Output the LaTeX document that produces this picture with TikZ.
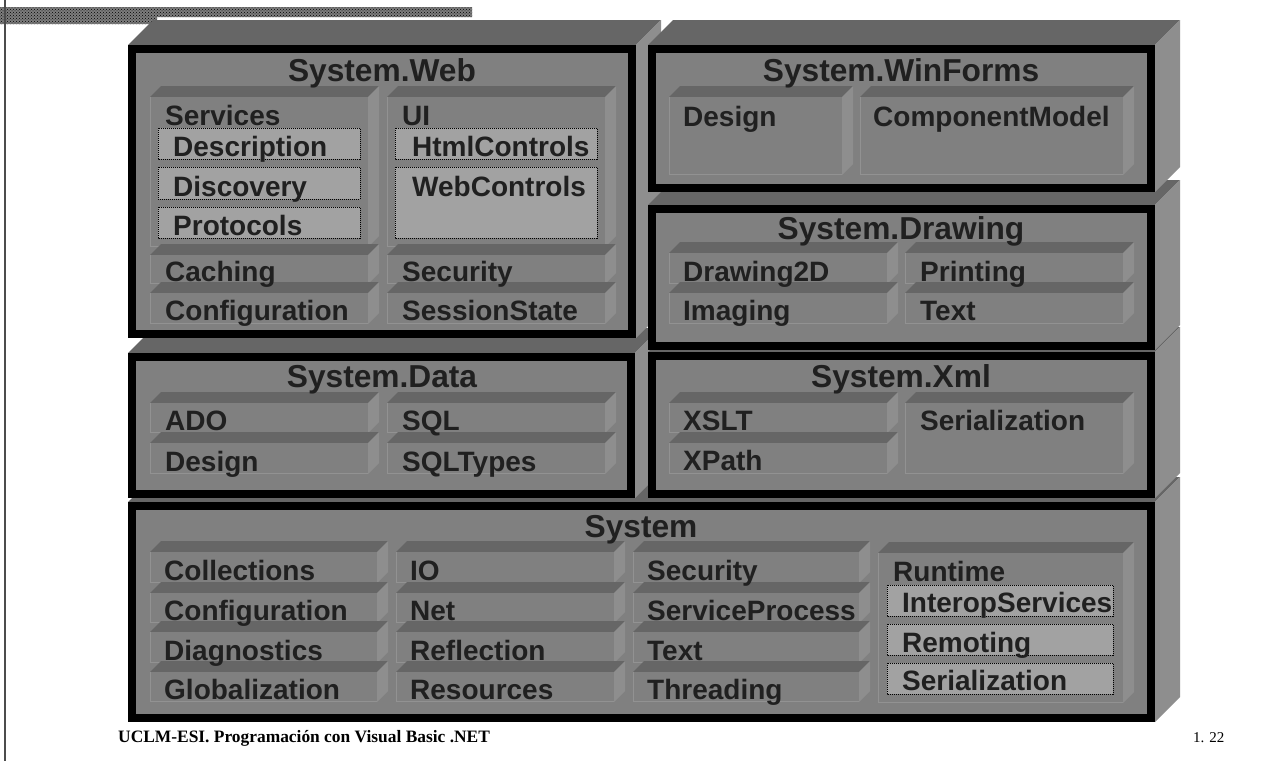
\documentclass[tikz,border=0pt]{standalone}
\usepackage{fontspec}
\newfontfamily\lbsans{Liberation Sans}
\newfontfamily\lbserif{Liberation Serif}
\usetikzlibrary{patterns}
\definecolor{frontc}{RGB}{128,128,128}
\definecolor{topc}{RGB}{102,102,102}
\definecolor{sidec}{RGB}{142,142,142}
\definecolor{edgec}{RGB}{146,146,146}
\definecolor{dotc}{RGB}{162,162,162}
\definecolor{txtc}{RGB}{32,32,32}
\definecolor{barc}{RGB}{125,125,125}
% outer 3D box: front x1 y1 x2 y2
\newcommand{\obox}[4]{%
  \fill[topc] (#1,#2) -- ({#1+25},{#2-25}) -- ({#3+25},{#2-25}) -- (#3,#2) -- cycle;
  \fill[sidec] (#3,#2) -- ({#3+25},{#2-25}) -- ({#3+25},{#4-25}) -- (#3,#4) -- cycle;
  \fill[frontc] (#1,#2) rectangle (#3,#4);
  \draw[frame] ({#1+4},{#2+4}) rectangle ({#3-4},{#4-4});
}
% inner 3D box
\newcommand{\subbx}[4]{%
  \fill[topc] (#1,#2) -- ({#1+11},{#2-11}) -- ({#3+11},{#2-11}) -- (#3,#2) -- cycle;
  \fill[sidec] (#3,#2) -- ({#3+11},{#2-11}) -- ({#3+11},{#4-11}) -- (#3,#4) -- cycle;
  \fill[frontc] (#1,#2) rectangle (#3,#4);
  \draw[edgec, line width=1pt] ({#1+0.5},{#2}) -- ({#1+0.5},{#4-0.5}) -- (#3,{#4-0.5});
}
\newcommand{\dotbx}[4]{\draw[dotbox] (#1,#2) rectangle (#3,#4);}
\begin{document}
\begin{tikzpicture}[x=1pt,y=-1pt,
  lbl/.style={font=\lbsans\bfseries\fontsize{28}{30}\selectfont, text=txtc, inner sep=0pt, anchor=base west},
  head/.style={font=\lbsans\bfseries\fontsize{31.7}{34}\selectfont, text=txtc, inner sep=0pt, anchor=base},
  dotbox/.style={fill=dotc, draw=black, line width=1pt, dash pattern=on 1pt off 1pt},
  frame/.style={draw=black, line width=8pt},
  foot/.style={font=\lbserif\bfseries\fontsize{17.4}{20}\selectfont, text=black, inner sep=0pt, anchor=base west},
  pagenum/.style={font=\lbserif\fontsize{15}{18}\selectfont, text=black, inner sep=0pt, anchor=base west},
]
\useasboundingbox (0,0) rectangle (1275,761);
\fill[white] (0,0) rectangle (1275,761);
% header pattern bar and left rule
\fill[barc] (0,7) rectangle (472,17) (0,17) rectangle (157,24);
\fill[pattern=crosshatch dots, pattern color=black] (0,7) rectangle (472,17) (0,17) rectangle (157,24);
\draw[line width=1.5pt, black!70] (5,0) -- (5,761);

% ===== System =====
\obox{128}{502}{1155}{722}
\subbx{150}{552}{377}{583}
\subbx{150}{593}{377}{623}
\subbx{150}{632}{377}{663}
\subbx{150}{672}{377}{702}
\subbx{396}{552}{614}{583}
\subbx{396}{593}{614}{623}
\subbx{396}{632}{614}{663}
\subbx{396}{672}{614}{702}
\subbx{633}{552}{859}{583}
\subbx{633}{593}{859}{623}
\subbx{633}{632}{859}{663}
\subbx{633}{672}{859}{702}
\subbx{878}{553}{1123}{703}
\dotbx{887}{585}{1113}{616}
\dotbx{887}{624}{1113}{655}
\dotbx{887}{663}{1113}{694}
\node[head] (sys-h) at (641,537) {System};
\node[lbl] (sys-coll) at (164,580) {Collections};
\node[lbl] (sys-conf) at (164,620) {Configuration};
\node[lbl] (sys-diag) at (164,660) {Diagnostics};
\node[lbl] (sys-glob) at (164,699) {Globalization};
\node[lbl] (sys-io) at (410,580) {IO};
\node[lbl] (sys-net) at (410,620) {Net};
\node[lbl] (sys-refl) at (410,660) {Reflection};
\node[lbl] (sys-res) at (410,699) {Resources};
\node[lbl] (sys-sec) at (647,580) {Security};
\node[lbl] (sys-svc) at (647,620) {ServiceProcess};
\node[lbl] (sys-text) at (647,660) {Text};
\node[lbl] (sys-thr) at (647,699) {Threading};
\node[lbl] (sys-rt) at (893,581) {Runtime};
\node[lbl] (sys-interop) at (902,612) {InteropServices};
\node[lbl] (sys-remot) at (902,652) {Remoting};
\node[lbl] (sys-ser) at (902,690) {Serialization};

% ===== System.Data =====
\obox{128}{353}{635}{498}
\subbx{150}{403}{368}{433}
\subbx{150}{443}{368}{474}
\subbx{387}{403}{605}{433}
\subbx{387}{443}{605}{474}
\node[head] (data-h) at (382,387) {System.Data};
\node[lbl] (data-ado) at (165,430) {ADO};
\node[lbl] (data-des) at (165,471) {Design};
\node[lbl] (data-sql) at (402,430) {SQL};
\node[lbl] (data-sqlt) at (402,471) {SQLTypes};

% ===== System.Xml =====
\obox{648}{352}{1155}{498}
\subbx{669}{403}{887}{433}
\subbx{669}{443}{887}{474}
\subbx{905}{403}{1123}{474}
\node[head] (xml-h) at (901,387) {System.Xml};
\node[lbl] (xml-xslt) at (683,430) {XSLT};
\node[lbl] (xml-xpath) at (683,470) {XPath};
\node[lbl] (xml-ser) at (920,430) {Serialization};

% ===== System.Web =====
\obox{128}{45}{636}{338}
\subbx{150}{97}{368}{247}
\dotbx{158}{128}{360}{159}
\dotbx{158}{167}{360}{199}
\dotbx{158}{207}{360}{238}
\subbx{387}{97}{605}{247}
\dotbx{395}{128}{597}{159}
\dotbx{395}{167}{597}{238}
\subbx{150}{255}{368}{284}
\subbx{150}{293}{368}{324}
\subbx{387}{255}{605}{284}
\subbx{387}{293}{605}{324}
\node[head] (web-h) at (382,81) {System.Web};
\node[lbl] (web-svc) at (165,125) {Services};
\node[lbl] (web-desc) at (173,156) {Description};
\node[lbl] (web-disc) at (173,196) {Discovery};
\node[lbl] (web-prot) at (173,235) {Protocols};
\node[lbl] (web-ui) at (402,125) {UI};
\node[lbl] (web-html) at (412,156) {HtmlControls};
\node[lbl] (web-webc) at (412,196) {WebControls};
\node[lbl] (web-cach) at (165,281) {Caching};
\node[lbl] (web-conf) at (165,320) {Configuration};
\node[lbl] (web-sec) at (402,281) {Security};
\node[lbl] (web-sess) at (402,320) {SessionState};

% ===== System.Drawing =====
\obox{648}{205}{1155}{350}
\subbx{669}{253}{887}{284}
\subbx{669}{293}{887}{324}
\subbx{905}{253}{1123}{284}
\subbx{905}{293}{1123}{324}
\node[head] (drw-h) at (901,239) {System.Drawing};
\node[lbl] (drw-2d) at (683,281) {Drawing2D};
\node[lbl] (drw-img) at (683,320) {Imaging};
\node[lbl] (drw-prn) at (920,281) {Printing};
\node[lbl] (drw-txt) at (920,320) {Text};

% ===== System.WinForms =====
\obox{648}{45}{1155}{192}
\subbx{669}{97}{842}{175}
\subbx{860}{97}{1123}{175}
\node[head] (win-h) at (901,81) {System.WinForms};
\node[lbl] (win-des) at (683,126) {Design};
\node[lbl] (win-comp) at (873,126) {ComponentModel};

% ===== footer =====
\node[foot] (footer) at (118,742) {UCLM-ESI. Programación con Visual Basic .NET};
\node[pagenum] (page) at (1193,742) {1. 22};
\end{tikzpicture}
\end{document}
